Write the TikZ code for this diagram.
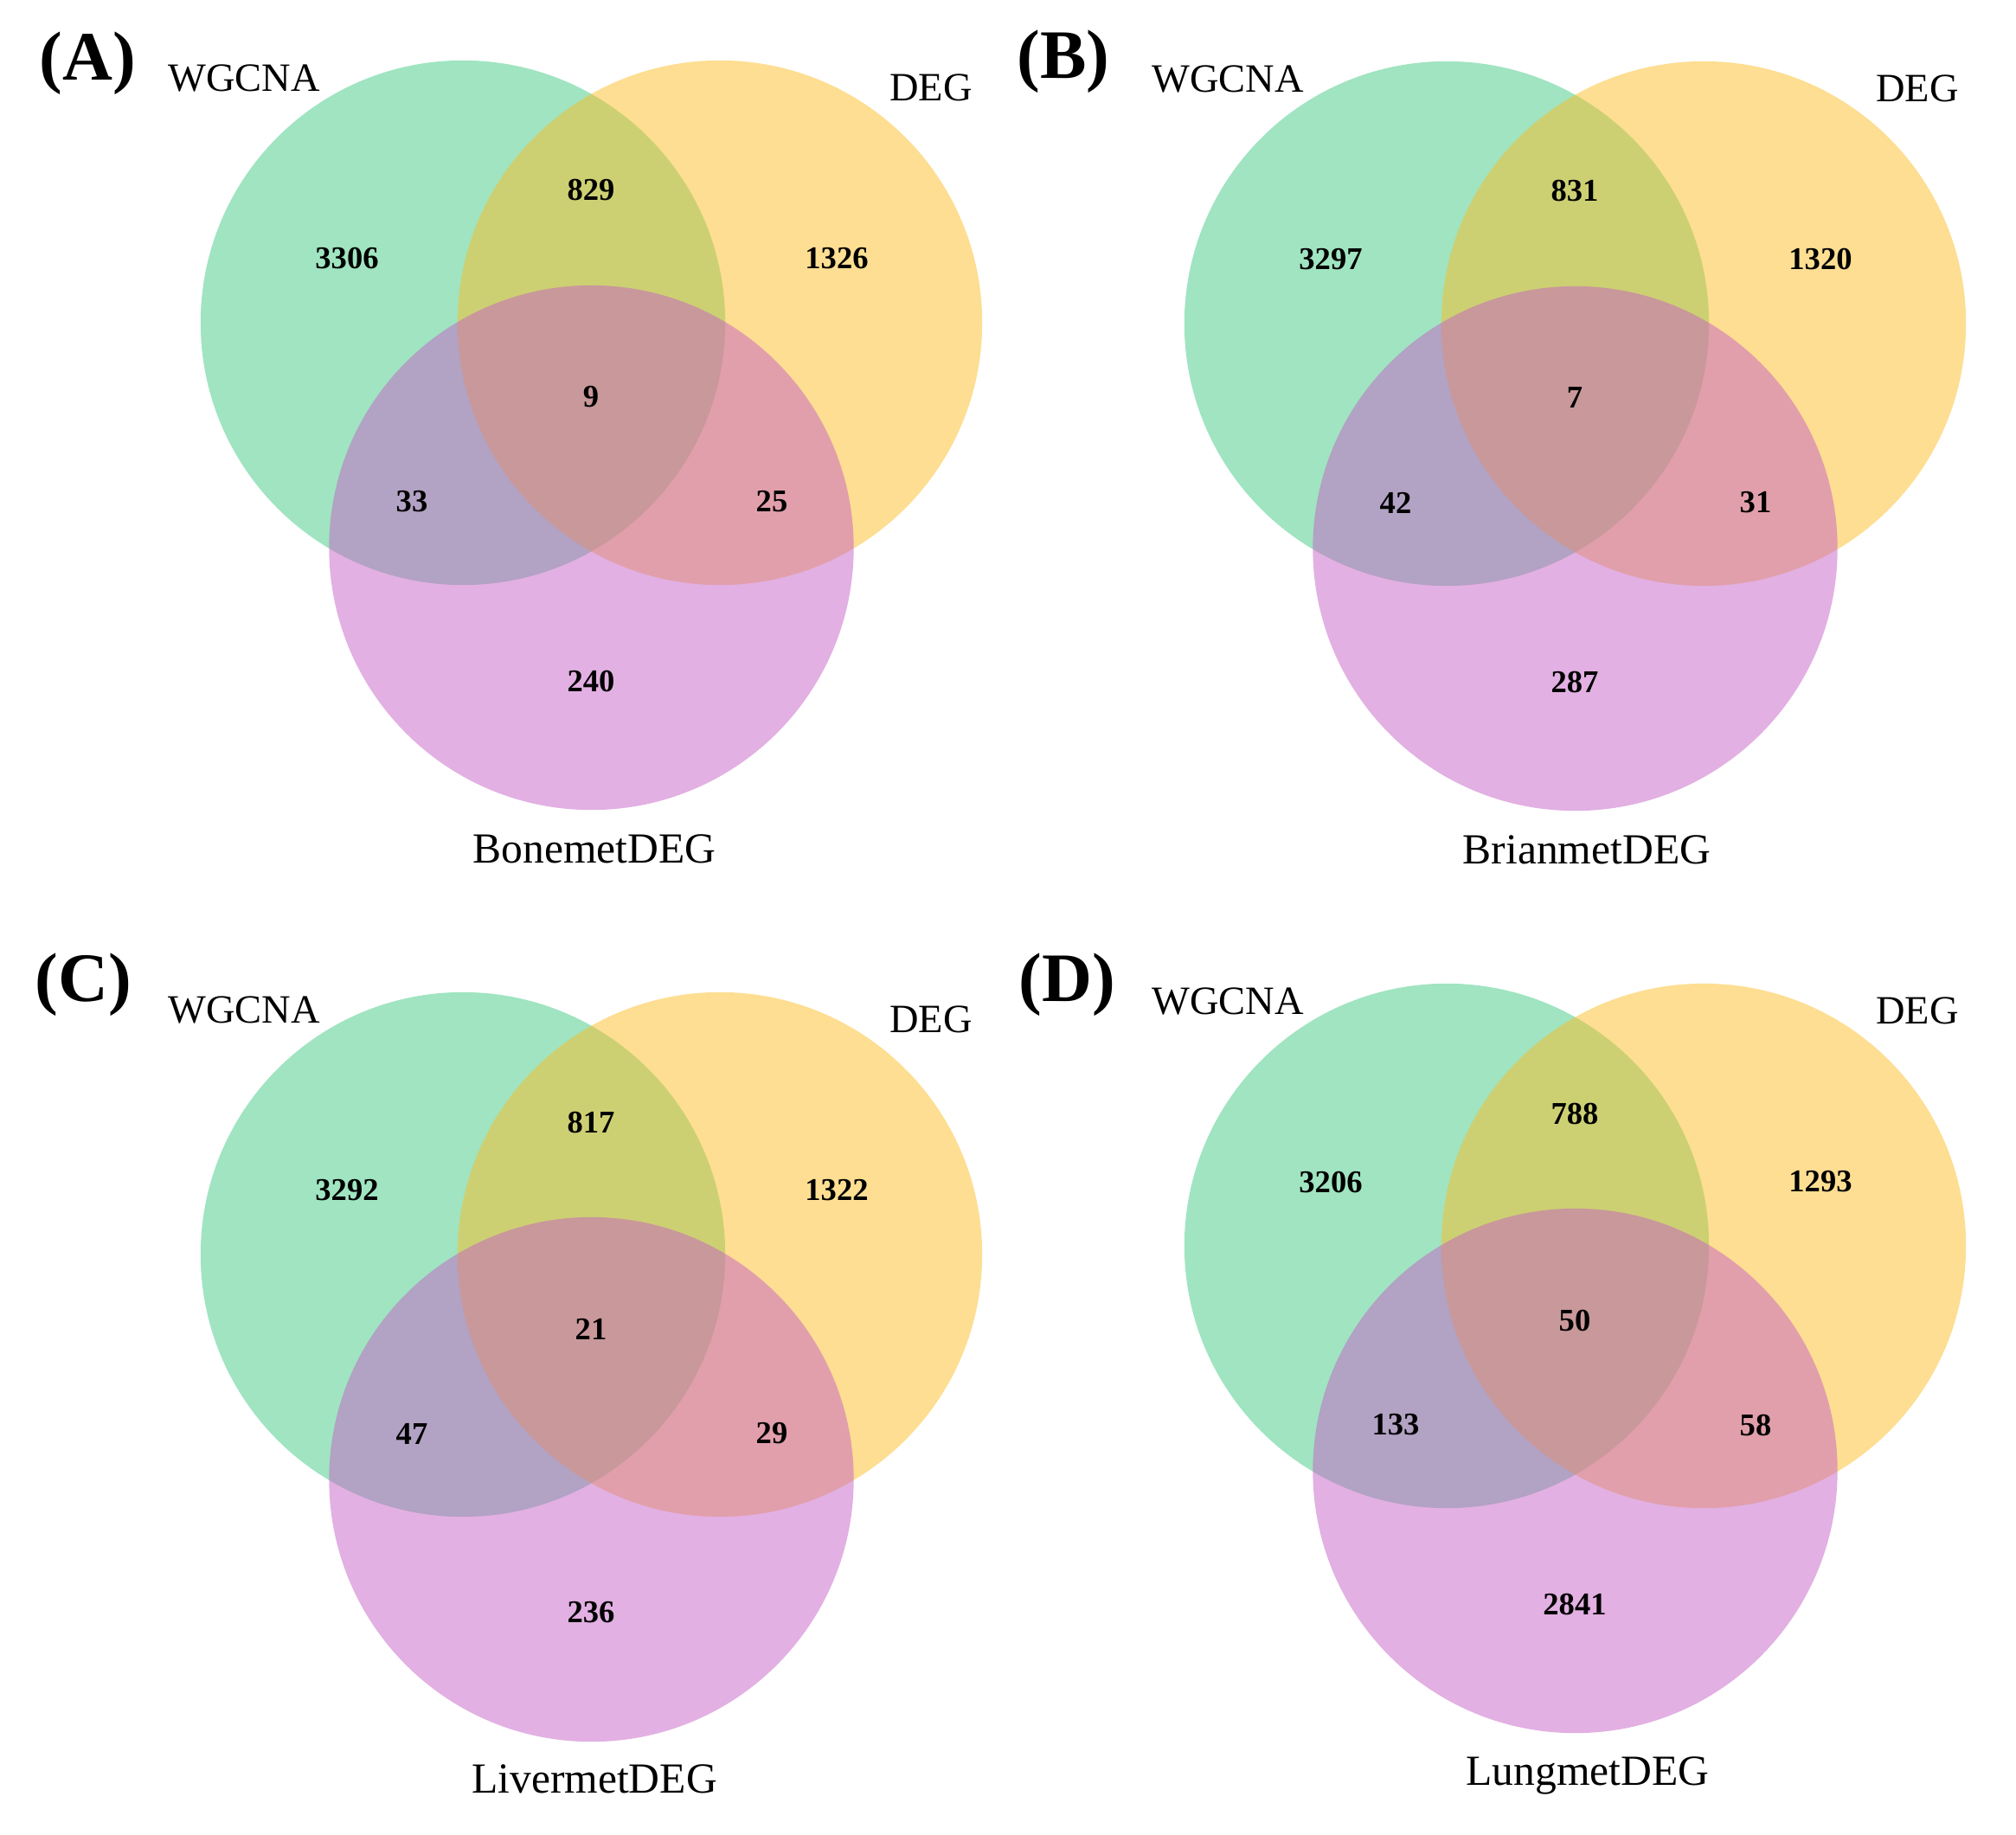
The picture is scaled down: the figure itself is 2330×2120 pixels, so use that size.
\documentclass[tikz,border=0pt]{standalone}
\usepackage{fontspec}
\setmainfont{Liberation Serif}
\definecolor{vgreen}{RGB}{65,201,131}
\definecolor{vyellow}{RGB}{251,189,37}
\definecolor{vpurple}{RGB}{197,97,197}
\tikzset{
  num/.style={font=\fontsize{10.4}{12}\selectfont\bfseries, inner sep=0pt},
  toplab/.style={font=\fontsize{13.2}{15}\selectfont, inner sep=0pt, anchor=base},
  botlab/.style={font=\fontsize{14.1}{16}\selectfont, inner sep=0pt, anchor=base},
  panlab/.style={font=\fontsize{22.8}{26}\selectfont\bfseries, inner sep=0pt, anchor=base west},
  vset/.style={fill opacity=0.5, draw=none}
}
% #1 prefix, #2..#8 numbers: W only, W&D, D only, all, W&B, D&B, B only
\newcommand\vennbody[8]{%
  \fill[vset, vgreen] (0,0) circle[radius=3.03cm];
  \fill[vset, vyellow] (297,0) circle[radius=3.03cm];
  \fill[vset, vpurple] (148.5,260) circle[radius=3.03cm];
  \node[num] (#1n1) at (-134,-74) {#2};
  \node[num] (#1n2) at (148,-153) {#3};
  \node[num] (#1n3) at (432,-74) {#4};
  \node[num] (#1n4) at (148,86) {#5};
  \node[num] (#1n5) at (-59,207) {#6};
  \node[num] (#1n6) at (357,207) {#7};
  \node[num] (#1n7) at (148,414) {#8};
  \node[toplab] (#1w) at (-253,-268) {WGCNA};
}
\begin{document}
\begin{tikzpicture}[x=0.01cm, y=-0.01cm]
\useasboundingbox (0,0) rectangle (2330,2120);
% Panel A
\begin{scope}[shift={(535,373)}]
  \vennbody{a}{3306}{829}{1326}{9}{33}{25}{240}
  \node[toplab] (ad) at (541,-257) {DEG};
  \node[botlab] (ab) at (152,624) {BonemetDEG};
\end{scope}
\node[panlab] (pa) at (45,92) {(A)};
% Panel B
\begin{scope}[shift={(1672,374)}]
  \vennbody{b}{3297}{831}{1320}{7}{42}{31}{287}
  \node[toplab] (bd) at (544,-257) {DEG};
  \node[botlab] (bb) at (162,624) {BrianmetDEG};
\end{scope}
\node[panlab] (pb) at (1175,90) {(B)};
% Panel C
\begin{scope}[shift={(535,1450)}]
  \vennbody{c}{3292}{817}{1322}{21}{47}{29}{236}
  \node[toplab] (cd) at (541,-257) {DEG};
  \node[botlab] (cb) at (152,622) {LivermetDEG};
\end{scope}
\node[panlab] (pc) at (40,1157) {(C)};
% Panel D
\begin{scope}[shift={(1672,1440)}]
  \vennbody{d}{3206}{788}{1293}{50}{133}{58}{2841}
  \node[toplab] (dd) at (544,-257) {DEG};
  \node[botlab] (db) at (163,623) {LungmetDEG};
\end{scope}
\node[panlab] (pd) at (1177,1157) {(D)};
\end{tikzpicture}
\end{document}
